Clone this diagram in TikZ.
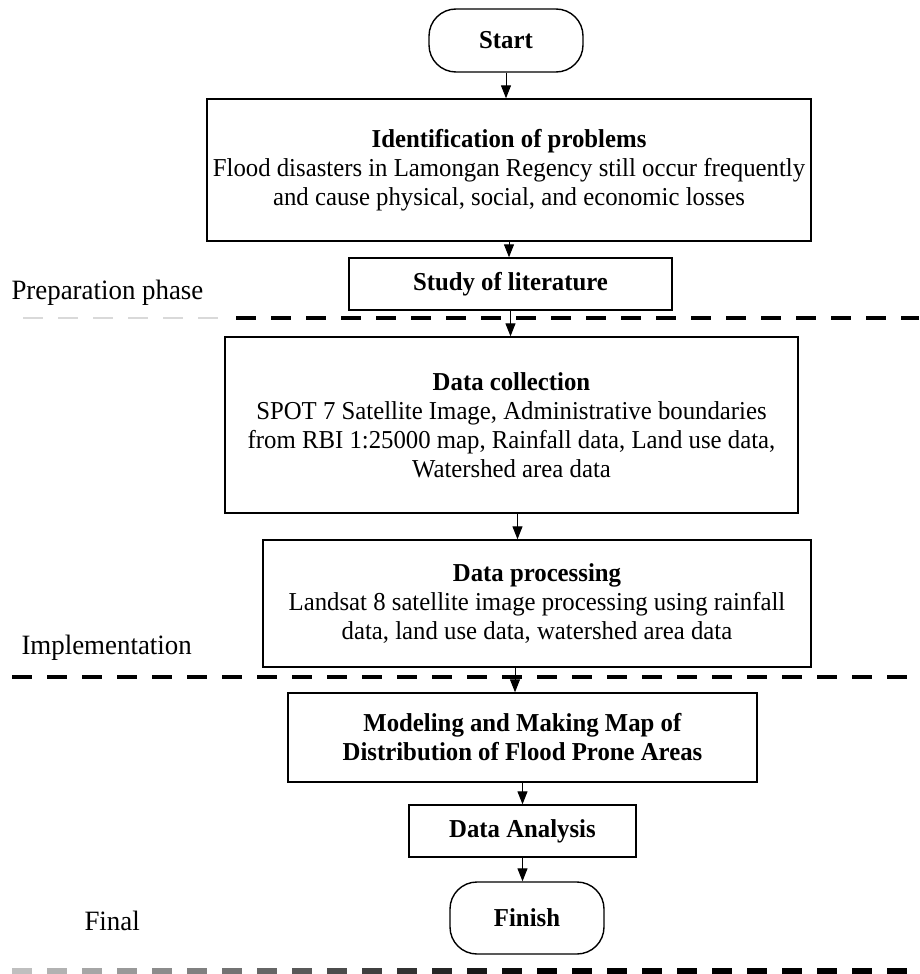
\documentclass[tikz,border=0pt]{standalone}
\usepackage{fontspec}
\setmainfont{Liberation Serif}[FakeStretch=0.96]
\usetikzlibrary{arrows.meta}

\newcommand*\boxfont{\fontsize{25.8}{29}\selectfont}
\tikzset{
    step box/.style 2 args={
        draw,
        line width=1.4pt,
        rectangle,
        font=\boxfont,
        align=center,
        inner sep=0pt,
        minimum width=#1,
        minimum height=#2
    },
    terminal/.style 2 args={
        step box={#1}{#2},
        rounded corners=27pt
    },
    flow/.style={
        -{Triangle[width=10pt,length=13pt]},
        line width=1pt
    },
    phase/.style={
        font=\fontsize{28}{31}\selectfont,
        anchor=west
    },
    divider/.style={
        line width=4pt,
        dash pattern=on 20pt off 15pt
    }
}

\begin{document}
\begin{tikzpicture}[x=1pt,y=-1pt]
    \useasboundingbox (0,0) rectangle (919,974);

    % The boxes of the flow, top to bottom.
    \node[terminal={154pt}{63pt}] (start) at (506,40.5) {\textbf{Start}};
    \node[step box={604pt}{142pt}] (problem) at (509,170)
        {\textbf{Identification of problems}\\
         Flood disasters in Lamongan Regency still occur frequently\\
         and cause physical, social, and economic losses};
    \node[step box={323pt}{52pt}] (study) at (510.5,284) {\textbf{Study of literature}};
    \node[step box={573pt}{176pt}] (collect) at (511.5,425)
        {\textbf{Data collection}\\
         SPOT 7 Satellite Image, Administrative boundaries\\
         from RBI 1:25000 map, Rainfall data, Land use data,\\
         Watershed area data};
    \node[step box={548pt}{127pt}] (process) at (537,603.5)
        {\textbf{Data processing}\\
         Landsat 8 satellite image processing using rainfall\\
         data, land use data, watershed area data};
    \node[step box={469pt}{89pt}] (model) at (522.5,737.5)
        {\textbf{Modeling and Making Map of}\\
         \textbf{Distribution of Flood Prone Areas}};
    \node[step box={227pt}{52pt}] (analysis) at (522.5,831) {\textbf{Data Analysis}};
    \node[terminal={154pt}{72pt}] (finish) at (527,918) {\textbf{Finish}};

    % Connectors between the boxes.
    \draw[flow] (start.south) -- (start.south |- problem.north);
    \draw[flow] (problem.south) -- (problem.south |- study.north);
    \draw[flow] (study.south) -- (study.south |- collect.north);
    \draw[flow] ([xshift=6pt]collect.south) -- ([xshift=6pt]collect.south |- process.north);
    \coordinate (pout) at (515,667);
    \draw[flow] (pout) -- (pout |- model.north);
    \draw[flow] (model.south) -- (model.south |- analysis.north);
    \draw[flow] (analysis.south) -- (analysis.south |- finish.north);

    % Phase names.
    \node[phase] (prep) at (8,293) {Preparation phase};
    \node[phase] (impl) at (18,648) {Implementation};
    \node[phase] (final) at (81,921) {Final};

    % Phase dividers.
    \draw[line width=1.5pt, black!15, dash pattern=on 20pt off 15pt] (23,318) -- (218,318);
    \draw[divider] (236,318) -- (919,318);
    \draw[divider] (12,677) -- (919,677);
    \foreach \i in {0,...,26}
        \pgfmathsetmacro\shade{min(100,25+\i*5)}
        \fill[black!\shade] (12+\i*35,968) rectangle (32+\i*35,974);

\end{tikzpicture}
\end{document}
